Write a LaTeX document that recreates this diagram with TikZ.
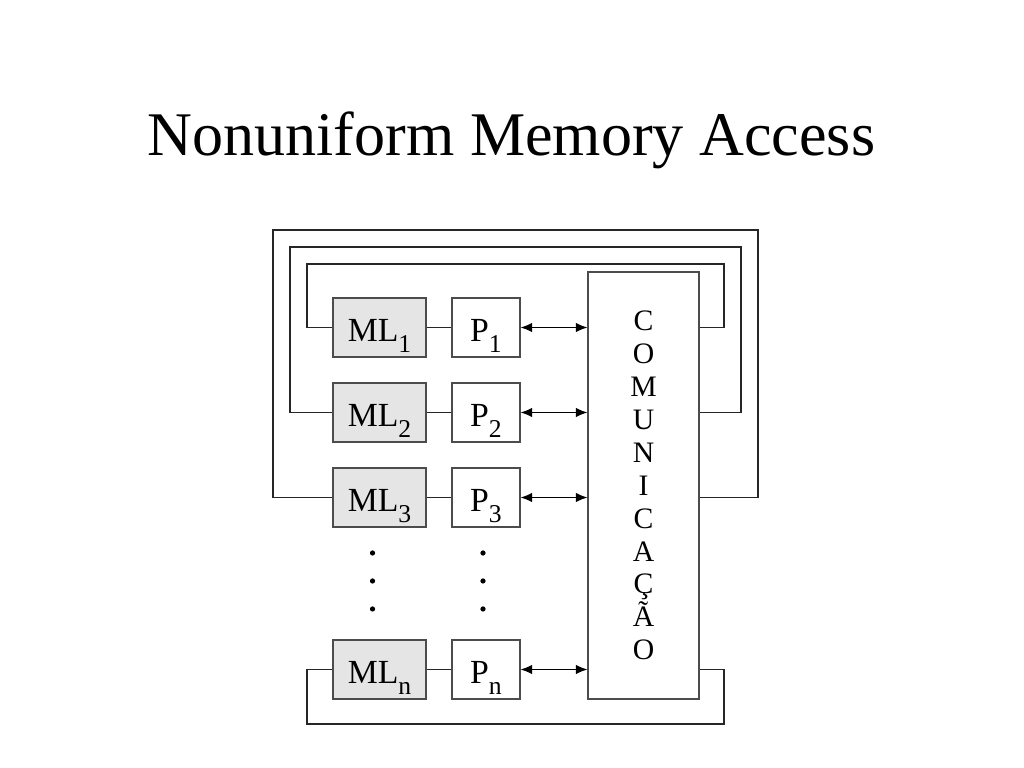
\documentclass[tikz,border=0pt]{standalone}
\usepackage{fontspec}
\setmainfont{Liberation Serif}
\usetikzlibrary{positioning}
\usetikzlibrary{arrows.meta}
\newcommand{\lsub}[1]{\raisebox{-8pt}{\fontsize{19}{19}\selectfont #1}}

\begin{document}
\begin{tikzpicture}[
  box/.style={rectangle,draw=black!70,line width=0.8pt,minimum height=1.536cm,text height=0.74cm,text depth=0pt,inner sep=0pt,font=\fontsize{25}{25}\selectfont},
  mem/.style={box,fill=black!10,minimum width=2.422cm},
  proc/.style={box,fill=white,minimum width=1.771cm},
  wire/.style={draw=black!85,line width=0.8pt},
  link/.style={draw=black,line width=1pt,{Latex[length=8.5pt,width=7pt]}-{Latex[length=8.5pt,width=7pt]}}]
\useasboundingbox (0,0) rectangle (26.667,20);
\node[font=\fontsize{46}{46}\selectfont,anchor=base] (title) at (13.320,15.938) {Nonuniform Memory Access};
\node[rectangle,draw=black!70,line width=0.8pt,minimum width=2.891cm,minimum height=11.120cm,align=center,font=\fontsize{22}{24.4}\selectfont] (COM) at (16.758,7.357) {C\\O\\M\\U\\N\\I\\C\\A\\Ç\\Ã\\O};
\foreach \i/\y in {1/11.471,2/9.258,3/7.044,n/2.565} {
  \node[mem] (ML\i) at (9.883,\y) {ML\lsub{\i}};
  \node[proc] (P\i) at (12.656,\y) {P\lsub{\i}};
  \draw[wire] (ML\i) -- (P\i);
  \draw[link] (P\i) -- (COM.west |- P\i);
}
\foreach \y in {5.599,4.870,4.141} {
  \fill (9.701,\y) circle (0.068);
  \fill (12.578,\y) circle (0.068);
}
\foreach \i/\xl/\yt/\xr in {1/7.995/13.125/18.854,2/7.552/13.568/19.297,3/7.109/14.010/19.740}
  \draw[wire] (ML\i.west) -| (\xl,\yt) -- (\xr,\yt) |- (COM.east |- ML\i);
\draw[wire] (MLn.west) -| (7.995,1.146) -- (18.854,1.146) |- (COM.east |- MLn);
\end{tikzpicture}
\end{document}
